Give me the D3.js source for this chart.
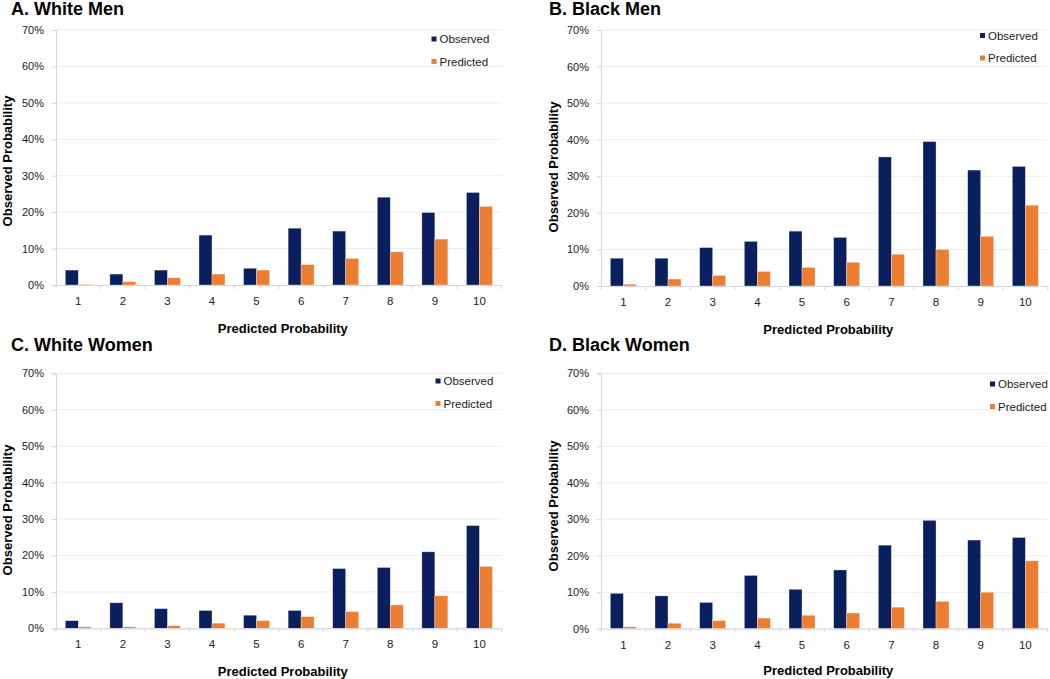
<!DOCTYPE html>
<html>
<head>
<meta charset="utf-8">
<script src="https://cdn.jsdelivr.net/npm/d3@7"></script>
<style>
  html, body { margin: 0; padding: 0; background: #ffffff; }
  svg { display: block; font-family: "Liberation Sans", Arial, Helvetica, sans-serif; }
</style>
</head>
<body>
<svg id="chart" width="1050" height="679"></svg>
<script>
// ---------------- DATA ----------------
const categories = ["1", "2", "3", "4", "5", "6", "7", "8", "9", "10"];
const seriesNames = ["Observed", "Predicted"];
const yTickValues = [0, 0.1, 0.2, 0.3, 0.4, 0.5, 0.6, 0.7];
const panelTitles = ["A. White Men", "B. Black Men", "C. White Women", "D. Black Women"];
const xAxisTitle = "Predicted Probability";
const yAxisTitle = "Observed Probability";

const whiteMenObserved   = [0.041, 0.030, 0.041, 0.137, 0.046, 0.156, 0.148, 0.241, 0.199, 0.254];
const whiteMenPredicted  = [0.002, 0.009, 0.020, 0.030, 0.041, 0.056, 0.073, 0.091, 0.126, 0.216];
const blackMenObserved   = [0.076, 0.076, 0.105, 0.122, 0.150, 0.133, 0.353, 0.395, 0.317, 0.327];
const blackMenPredicted  = [0.005, 0.019, 0.029, 0.040, 0.051, 0.065, 0.087, 0.100, 0.136, 0.221];
const whiteWomenObserved = [0.021, 0.070, 0.054, 0.049, 0.036, 0.049, 0.164, 0.167, 0.210, 0.282];
const whiteWomenPredicted= [0.004, 0.004, 0.007, 0.014, 0.021, 0.032, 0.046, 0.064, 0.089, 0.170];
const blackWomenObserved = [0.097, 0.090, 0.072, 0.146, 0.108, 0.161, 0.229, 0.297, 0.243, 0.250];
const blackWomenPredicted= [0.005, 0.015, 0.022, 0.029, 0.037, 0.043, 0.059, 0.075, 0.100, 0.186];

// ---------------- STYLE / LAYOUT ----------------
const colors = { Observed: "#0a1f5e", Predicted: "#ed7d31" };

const panels = [
  { title: panelTitles[0], obs: whiteMenObserved,   pred: whiteMenPredicted,
    x0: 56,  x1: 501.7,  yTop: 30,    yBot: 285,   titleX: 11,  titleY: 15,
    yLabX: 12,  yLabY: 161, xLabY: 332.5, legX: 431.5, legY: 39 },
  { title: panelTitles[1], obs: blackMenObserved,   pred: blackMenPredicted,
    x0: 601, x1: 1047.7, yTop: 30,    yBot: 286,   titleX: 549, titleY: 15,
    yLabX: 558, yLabY: 167, xLabY: 333.5, legX: 980, legY: 35.5 },
  { title: panelTitles[2], obs: whiteWomenObserved, pred: whiteWomenPredicted,
    x0: 56,  x1: 501.7,  yTop: 373.3, yBot: 628.3, titleX: 11,  titleY: 351,
    yLabX: 12,  yLabY: 510, xLabY: 676, legX: 435.5, legY: 381 },
  { title: panelTitles[3], obs: blackWomenObserved, pred: blackWomenPredicted,
    x0: 601, x1: 1047.7, yTop: 373.3, yBot: 628.7, titleX: 549, titleY: 351,
    yLabX: 558, yLabY: 506, xLabY: 675, legX: 990, legY: 384 }
];

const svg = d3.select("#chart");

panels.forEach(p => {
  const g = svg.append("g");

  const x = d3.scaleBand().domain(categories).range([p.x0, p.x1]).paddingInner(0).paddingOuter(0);
  const xs = d3.scaleBand().domain(seriesNames).range([0, x.bandwidth()]).paddingInner(0).paddingOuter(0.715);
  const y = d3.scaleLinear().domain([0, 0.7]).range([p.yBot, p.yTop]);

  // gridlines
  g.append("g").selectAll("line").data(yTickValues.filter(v => v > 0)).join("line")
    .attr("x1", p.x0).attr("x2", p.x1)
    .attr("y1", d => y(d)).attr("y2", d => y(d))
    .attr("stroke", "#ececec").attr("stroke-width", 1);

  // y axis
  const yAxis = d3.axisLeft(y).tickValues(yTickValues).tickFormat(d3.format(".0%")).tickSize(4).tickPadding(8);
  const yg = g.append("g").attr("transform", `translate(${p.x0},0)`).call(yAxis);
  yg.select(".domain").attr("stroke", "#d6d6d6");
  yg.selectAll(".tick line").attr("stroke", "#d6d6d6");
  yg.selectAll(".tick text").attr("fill", "#222").style("font-size", "11px")
    .style("font-family", "'Liberation Sans', Arial, sans-serif");

  // bars
  const rows = categories.map((c, i) => ({ cat: c, values: [
    { key: "Observed", v: p.obs[i] }, { key: "Predicted", v: p.pred[i] } ] }));
  const grp = g.append("g").selectAll("g").data(rows).join("g")
    .attr("transform", d => `translate(${x(d.cat)},0)`);
  grp.selectAll("rect").data(d => d.values).join("rect")
    .attr("x", d => xs(d.key))
    .attr("width", xs.bandwidth())
    .attr("y", d => y(d.v))
    .attr("height", d => y(0) - y(d.v))
    .attr("fill", d => colors[d.key])
    .attr("stroke", "rgba(255,255,255,0.55)").attr("stroke-width", 0.6);

  // x axis
  const xAxis = d3.axisBottom(x).tickSize(0).tickPadding(12);
  const xg = g.append("g").attr("transform", `translate(0,${p.yBot})`).call(xAxis);
  xg.select(".domain").attr("stroke", "#d6d6d6").attr("stroke-width", 1.2);
  xg.selectAll(".tick text").attr("fill", "#222").style("font-size", "11.5px")
    .style("font-family", "'Liberation Sans', Arial, sans-serif");
  // boundary ticks between categories
  const bounds = categories.map(c => x(c)).concat([p.x1]);
  g.append("g").selectAll("line").data(bounds).join("line")
    .attr("x1", d => d).attr("x2", d => d)
    .attr("y1", p.yBot).attr("y2", p.yBot + 4)
    .attr("stroke", "#d6d6d6");

  // title
  g.append("text").attr("x", p.titleX).attr("y", p.titleY)
    .text(p.title).attr("font-weight", "bold").attr("font-size", 18).attr("fill", "#000");

  // axis titles
  g.append("text")
    .attr("transform", `translate(${p.yLabX},${p.yLabY}) rotate(-90)`)
    .attr("text-anchor", "middle").attr("font-weight", "bold").attr("font-size", 13).attr("fill", "#000")
    .text(yAxisTitle);
  g.append("text")
    .attr("x", (p.x0 + p.x1) / 2 + 4).attr("y", p.xLabY)
    .attr("text-anchor", "middle").attr("font-weight", "bold").attr("font-size", 13).attr("fill", "#000")
    .text(xAxisTitle);

  // legend
  const leg = g.append("g").selectAll("g").data(seriesNames).join("g")
    .attr("transform", (d, i) => `translate(${p.legX},${p.legY + i * 22.5})`);
  leg.append("rect").attr("x", 0).attr("y", -2.5).attr("width", 5).attr("height", 5)
    .attr("fill", d => colors[d]);
  leg.append("text").attr("x", 8).attr("y", 4.2).attr("font-size", 11.5).attr("fill", "#222")
    .text(d => d);
});
</script>
</body>
</html>
